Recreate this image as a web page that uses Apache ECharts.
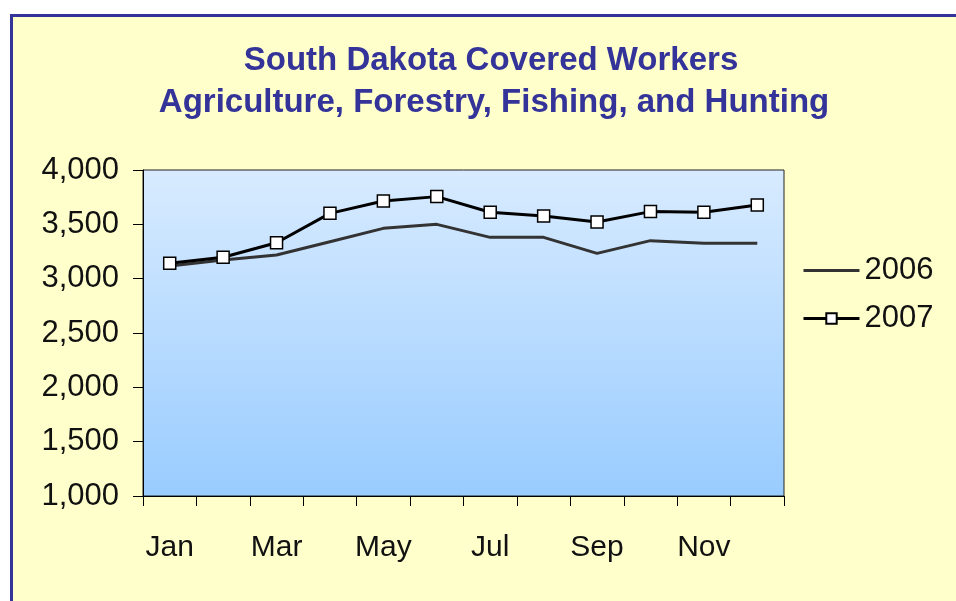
<!DOCTYPE html>
<html>
<head>
<meta charset="utf-8">
<script src="https://cdn.jsdelivr.net/npm/echarts@6/dist/echarts.min.js"></script>
<style>
  html, body { margin: 0; padding: 0; background: #ffffff; }
  #chart { width: 956px; height: 601px; }
</style>
</head>
<body>
<div id="chart"></div>
<script>
// data
const months = ['Jan', 'Feb', 'Mar', 'Apr', 'May', 'Jun', 'Jul', 'Aug', 'Sep', 'Oct', 'Nov', 'Dec']
const workers2006 = [3117, 3172, 3218, 3340, 3463, 3500, 3380, 3380, 3233, 3350, 3325, 3325]
const workers2007 = [3142, 3197, 3331, 3601, 3715, 3755, 3611, 3577, 3522, 3617, 3611, 3678]
const titleLines = ['South Dakota Covered Workers', 'Agriculture, Forestry, Fishing, and Hunting']

const chart = echarts.init(document.getElementById('chart'))

const axisFont = { fontFamily: 'Liberation Sans, Arial, sans-serif', fontSize: 30, color: '#111' }
const titleFont = 'bold 33px "Liberation Sans", Arial, sans-serif'

chart.setOption({
  animation: false,
  graphic: [
    {
      type: 'rect',
      z: -10,
      shape: { x: 11.5, y: 15.5, width: 1000, height: 700 },
      style: { fill: '#FFFFCC', stroke: '#333399', lineWidth: 3 }
    },
    // title lines, centred a little right of the canvas middle like the original
    {
      type: 'text',
      x: 491,
      y: 61,
      style: { text: titleLines[0], font: titleFont, fill: '#333399', align: 'center', verticalAlign: 'middle' }
    },
    {
      type: 'text',
      x: 494,
      y: 103,
      style: { text: titleLines[1], font: titleFont, fill: '#333399', align: 'center', verticalAlign: 'middle' }
    }
  ],
  legend: {
    orient: 'vertical',
    left: 797,
    top: 250,
    itemWidth: 56,
    itemHeight: 13,
    itemGap: 17,
    lineStyle: { width: 3 },
    textStyle: Object.assign({}, axisFont, { fontSize: 31 }),
    data: [
      { name: '2006', itemStyle: { opacity: 0 } },
      { name: '2007' }
    ]
  },
  grid: {
    left: 143,
    right: 172,
    top: 170,
    bottom: 105,
    show: true,
    borderColor: '#222',
    borderWidth: 1,
    backgroundColor: new echarts.graphic.LinearGradient(0, 0, 0, 1, [
      { offset: 0, color: '#D8EBFF' },
      { offset: 1, color: '#99CCFF' }
    ])
  },
  xAxis: {
    type: 'category',
    data: months,
    boundaryGap: true,
    axisLine: { lineStyle: { color: '#000', width: 1 } },
    axisTick: { show: true, interval: 0, length: 10, lineStyle: { color: '#000' } },
    axisLabel: Object.assign({}, axisFont, { interval: 1, margin: 37 })
  },
  yAxis: {
    type: 'value',
    min: 1000,
    max: 4000,
    interval: 500,
    splitLine: { show: false },
    axisLine: { show: true, lineStyle: { color: '#000', width: 1 } },
    axisTick: { show: true, length: 10, lineStyle: { color: '#000' } },
    axisLabel: Object.assign({}, axisFont, {
      fontSize: 31,
      margin: 24,
      formatter: v => v.toLocaleString('en-US')
    })
  },
  series: [
    {
      name: '2006',
      type: 'line',
      data: workers2006,
      symbol: 'none',
      lineStyle: { color: '#333333', width: 3 },
      itemStyle: { color: '#333333' }
    },
    {
      name: '2007',
      type: 'line',
      data: workers2007,
      symbol: 'rect',
      symbolSize: 12,
      lineStyle: { color: '#000000', width: 3 },
      itemStyle: { color: '#ffffff', borderColor: '#000000', borderWidth: 1.5 }
    }
  ]
})
</script>
</body>
</html>
